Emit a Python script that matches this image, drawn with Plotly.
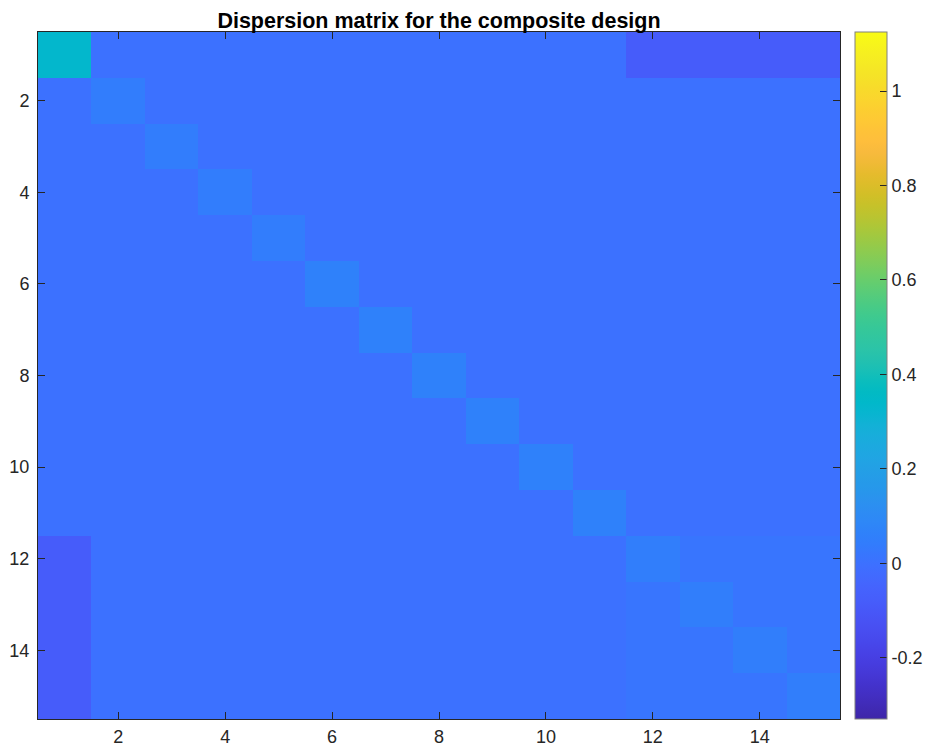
import plotly.graph_objects as go

# Parameter order: intercept, 4 linear, 6 two-factor interactions, 4 quadratic
n_params = 15
labels = list(range(1, n_params + 1))

# Diagonal of the dispersion matrix (variance of each coefficient)
diagonal = [0.333,
            0.042, 0.042, 0.042, 0.042,
            0.0625, 0.0625, 0.0625, 0.0625, 0.0625, 0.0625,
            0.047, 0.047, 0.047, 0.047]

# Covariance between the intercept and each quadratic term
intercept_quadratic_cov = [-0.083, -0.083, -0.083, -0.083]

# Covariance between pairs of distinct quadratic terms
quadratic_pair_cov = 0.016

quad_idx = [11, 12, 13, 14]

# Colour limits of the colour bar
c_min, c_max = -0.33, 1.125

# Assemble the symmetric matrix
z = [[0.0] * n_params for _ in range(n_params)]
for i, v in enumerate(diagonal):
    z[i][i] = v
for k, qi in enumerate(quad_idx):
    z[0][qi] = intercept_quadratic_cov[k]
    z[qi][0] = intercept_quadratic_cov[k]
for qi in quad_idx:
    for qj in quad_idx:
        if qi != qj:
            z[qi][qj] = quadratic_pair_cov

# parula colour map (64 entries)
parula = [
    (0.2422, 0.1504, 0.6603), (0.2504, 0.1650, 0.7076), (0.2578, 0.1818, 0.7511),
    (0.2647, 0.1978, 0.7952), (0.2706, 0.2147, 0.8364), (0.2751, 0.2342, 0.8710),
    (0.2783, 0.2559, 0.8991), (0.2803, 0.2782, 0.9221), (0.2813, 0.3006, 0.9414),
    (0.2810, 0.3228, 0.9579), (0.2795, 0.3447, 0.9717), (0.2760, 0.3667, 0.9829),
    (0.2699, 0.3892, 0.9906), (0.2602, 0.4123, 0.9952), (0.2440, 0.4358, 0.9988),
    (0.2206, 0.4603, 0.9973), (0.1963, 0.4847, 0.9892), (0.1834, 0.5074, 0.9798),
    (0.1786, 0.5289, 0.9682), (0.1764, 0.5499, 0.9520), (0.1687, 0.5703, 0.9359),
    (0.1540, 0.5902, 0.9218), (0.1460, 0.6091, 0.9079), (0.1380, 0.6276, 0.8973),
    (0.1248, 0.6459, 0.8883), (0.1113, 0.6635, 0.8763), (0.0952, 0.6798, 0.8598),
    (0.0689, 0.6948, 0.8394), (0.0297, 0.7082, 0.8163), (0.0036, 0.7203, 0.7917),
    (0.0067, 0.7312, 0.7660), (0.0433, 0.7411, 0.7394), (0.0964, 0.7500, 0.7120),
    (0.1408, 0.7584, 0.6842), (0.1717, 0.7670, 0.6554), (0.1938, 0.7758, 0.6251),
    (0.2161, 0.7843, 0.5923), (0.2470, 0.7918, 0.5567), (0.2906, 0.7973, 0.5188),
    (0.3406, 0.8008, 0.4789), (0.3909, 0.8029, 0.4354), (0.4456, 0.8024, 0.3909),
    (0.5044, 0.7993, 0.3480), (0.5616, 0.7942, 0.3045), (0.6174, 0.7876, 0.2612),
    (0.6720, 0.7793, 0.2227), (0.7242, 0.7698, 0.1910), (0.7738, 0.7598, 0.1646),
    (0.8203, 0.7498, 0.1535), (0.8634, 0.7406, 0.1596), (0.9035, 0.7330, 0.1774),
    (0.9393, 0.7288, 0.2100), (0.9728, 0.7298, 0.2394), (0.9956, 0.7434, 0.2371),
    (0.9970, 0.7659, 0.2199), (0.9952, 0.7893, 0.2028), (0.9892, 0.8136, 0.1885),
    (0.9786, 0.8386, 0.1766), (0.9676, 0.8639, 0.1643), (0.9610, 0.8890, 0.1537),
    (0.9597, 0.9135, 0.1423), (0.9628, 0.9373, 0.1265), (0.9691, 0.9606, 0.1064),
    (0.9769, 0.9839, 0.0805),
]
colorscale = [
    [i / (len(parula) - 1),
     "rgb({},{},{})".format(round(r * 255), round(g * 255), round(b * 255))]
    for i, (r, g, b) in enumerate(parula)
]

W, H = 927, 746
left, right, top, bottom = 38, 87, 32, 27
plot_w = W - left - right

axis_color = "#262626"
font_family = "Liberation Sans, Arial, Helvetica, sans-serif"
tick_size = 18

fig = go.Figure(
    go.Heatmap(
        z=z,
        x=labels,
        y=labels,
        colorscale=colorscale,
        zmin=c_min,
        zmax=c_max,
        xgap=0,
        ygap=0,
        colorbar=dict(
            thickness=32,
            thicknessmode="pixels",
            len=1,
            lenmode="fraction",
            x=(855 - left) / plot_w,
            xanchor="left",
            xpad=0,
            y=0.5,
            yanchor="middle",
            ypad=0,
            outlinewidth=1,
            outlinecolor="#808080",
            ticks="inside",
            ticklen=7,
            tickwidth=1,
            tickcolor=axis_color,
            tickvals=[-0.2, 0, 0.2, 0.4, 0.6, 0.8, 1],
            ticktext=["-0.2", "0", "0.2", "0.4", "0.6", "0.8", "1"],
            tickfont=dict(family=font_family, size=tick_size, color=axis_color),
        ),
    )
)

tick_vals = [2, 4, 6, 8, 10, 12, 14]
common_axis = dict(
    tickvals=tick_vals,
    ticktext=[str(v) for v in tick_vals],
    ticks="inside",
    ticklen=7,
    tickwidth=1,
    tickcolor=axis_color,
    showline=True,
    linecolor=axis_color,
    linewidth=1,
    mirror="ticks",
    showgrid=False,
    zeroline=False,
    tickfont=dict(family=font_family, size=tick_size, color=axis_color),
    layer="above traces",
)

fig.update_layout(
    width=W,
    height=H,
    margin=dict(l=left, r=right, t=top, b=bottom, pad=0, autoexpand=False),
    paper_bgcolor="white",
    plot_bgcolor="white",
    title=dict(
        text="<b>Dispersion matrix for the composite design</b>",
        x=0.5,
        xref="paper",
        xanchor="center",
        y=1 - 20 / H,
        yref="container",
        yanchor="middle",
        font=dict(family=font_family, size=21.5, color="black"),
    ),
    xaxis=dict(**common_axis, range=[0.5, 15.5], ticklabelstandoff=1),
    yaxis=dict(**common_axis, range=[15.5, 0.5], ticklabelstandoff=4),
)

fig.write_html("out.html")
